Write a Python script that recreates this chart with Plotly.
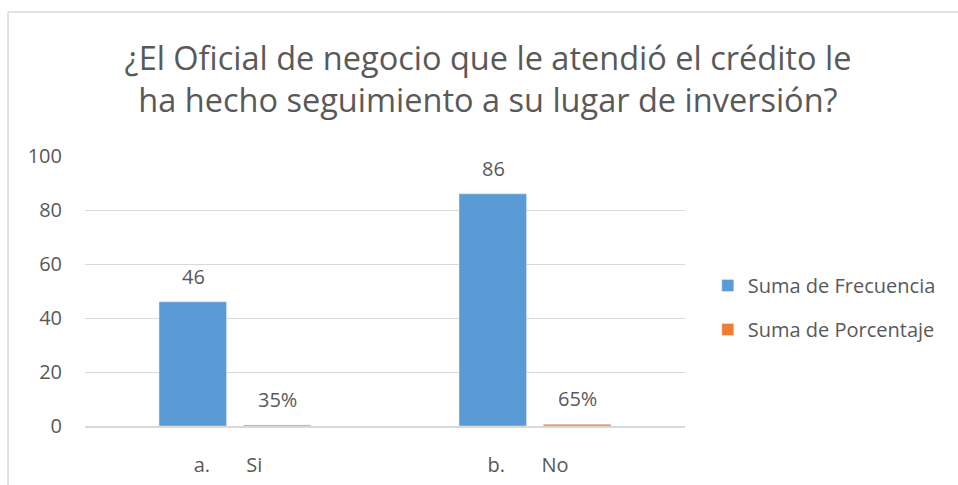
import plotly.graph_objects as go

FONT = "Open Sans"
GREY = "#595959"

categories = ["a.\u00a0\u00a0\u00a0\u00a0\u00a0\u00a0\u00a0Si", "b.\u00a0\u00a0\u00a0\u00a0\u00a0\u00a0\u00a0No"]
frecuencia = [46, 86]
porcentaje = [0.35, 0.65]
y_ticks = [0, 20, 40, 60, 80, 100]

title = "¿El Oficial de negocio que le atendió el crédito le<br>ha hecho seguimiento a su lugar de inversión?"

fig = go.Figure()
fig.add_trace(go.Bar(x=categories, y=frecuencia, name="Suma de Frecuencia",
                     marker_color="#5B9BD5", legendgroup="f"))
fig.add_trace(go.Bar(x=categories, y=porcentaje, name="Suma de Porcentaje",
                     marker_color="#ED7D31", legendgroup="p"))

# data labels (Excel style, sitting well above the bar ends)
for cat, v in zip(categories, frecuencia):
    fig.add_annotation(x=cat, y=v, text=str(v), xshift=-42, yshift=10, showarrow=False,
                       yanchor="bottom", font=dict(size=20, color=GREY, family=FONT))
for cat, v in zip(categories, porcentaje):
    fig.add_annotation(x=cat, y=v, text=f"{v:.0%}", xshift=42, yshift=10, showarrow=False,
                       yanchor="bottom", font=dict(size=20, color=GREY, family=FONT))

# outer chart border (top and left only visible)
fig.add_shape(type="line", xref="paper", yref="paper", x0=-0.1283, x1=1.455, y0=1.5333, y1=1.5333,
              line=dict(color="#D9D9D9", width=1.5))
fig.add_shape(type="line", xref="paper", yref="paper", x0=-0.1283, x1=-0.1283, y0=-0.2185, y1=1.5333,
              line=dict(color="#D9D9D9", width=1.5))

fig.update_layout(
    width=958, height=485,
    margin=dict(l=85, r=273, t=156, b=59),
    paper_bgcolor="white", plot_bgcolor="white",
    barmode="group", bargap=0.437, bargroupgap=0.2,
    font=dict(family=FONT, color=GREY, size=20),
    title=dict(text=title, x=488 / 958, xanchor="center", y=1 - 69.5 / 485, yanchor="middle",
               font=dict(size=32.5, color=GREY, family=FONT)),
    legend=dict(x=1.038, xanchor="left", y=0.439, yanchor="middle", tracegroupgap=15,
                font=dict(size=20, color=GREY), bgcolor="rgba(0,0,0,0)"),
    showlegend=True,
)
fig.update_yaxes(range=[0, 100], tickvals=y_ticks, showgrid=True, gridcolor="#D9D9D9", gridwidth=1,
                 zeroline=False, showline=False, ticklabelstandoff=22, automargin=False,
                 tickfont=dict(size=20, color=GREY))
fig.update_xaxes(showline=True, linecolor="#D9D9D9", linewidth=1.5, ticks="", ticklabelstandoff=20,
                 ticklabelshift=-7, automargin=False, tickfont=dict(size=20, color=GREY))

# drop the default body margin so the figure fills the window exactly
fig.write_html("out.html", config={"displayModeBar": False},
               post_script="document.body.style.margin='0';document.body.style.overflow='hidden';")
